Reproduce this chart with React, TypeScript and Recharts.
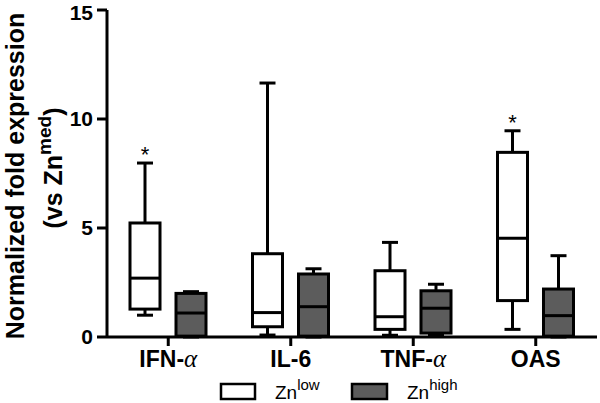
import React from "react";
import { ComposedChart, Bar, XAxis, YAxis, Label } from "recharts";

const categories = ["IFN-α", "IL-6", "TNF-α", "OAS"];
const significance = ["*", "", "", "*"];

const lowMin = [1.0, 0.09, 0.08, 0.35];
const lowQ1 = [1.28, 0.47, 0.35, 1.67];
const lowMedian = [2.7, 1.12, 0.93, 4.53];
const lowQ3 = [5.23, 3.82, 3.04, 8.47];
const lowMax = [7.98, 11.65, 4.34, 9.46];

const highMin = [0.0, 0.0, 0.08, 0.0];
const highQ1 = [0.04, 0.04, 0.18, 0.04];
const highMedian = [1.1, 1.39, 1.32, 0.98];
const highQ3 = [2.0, 2.89, 2.12, 2.2];
const highMax = [2.08, 3.13, 2.42, 3.73];

const yTicks = [0, 5, 10, 15];

const data = categories.map((c, i) => ({
  cat: c,
  sig: significance[i],
  lowMin: lowMin[i],
  lowQ1: lowQ1[i],
  lowMedian: lowMedian[i],
  lowQ3: lowQ3[i],
  lowMax: lowMax[i],
  highMin: highMin[i],
  highQ1: highQ1[i],
  highMedian: highMedian[i],
  highQ3: highQ3[i],
  highMax: highMax[i],
}));

const FONT = "'Liberation Sans', Arial, Helvetica, sans-serif";
const DARK = "#5c5c5c";

const makeBox = (prefix: string, fill: string, showSig: boolean) => (props: any) => {
  const { x, y, width, height, payload } = props;
  const max = payload[prefix + "Max"];
  const base = y + height;
  const px = (v: number) => base - (v / max) * height;
  const cx = x + width / 2;
  const cap = 8;
  const yMax = px(max);
  const yQ3 = px(payload[prefix + "Q3"]);
  const yMed = px(payload[prefix + "Median"]);
  const yQ1 = px(payload[prefix + "Q1"]);
  const yMin = px(payload[prefix + "Min"]);
  return (
    <g>
      <line x1={cx} x2={cx} y1={yMax} y2={yQ3} stroke="#000" strokeWidth={3} />
      <line x1={cx - cap} x2={cx + cap} y1={yMax} y2={yMax} stroke="#000" strokeWidth={3} />
      <line x1={cx} x2={cx} y1={yQ1} y2={yMin} stroke="#000" strokeWidth={3} />
      <line x1={cx - cap} x2={cx + cap} y1={yMin} y2={yMin} stroke="#000" strokeWidth={3} />
      <rect x={x} y={yQ3} width={width} height={yQ1 - yQ3} fill={fill} stroke="#000" strokeWidth={3} />
      <line x1={x} x2={x + width} y1={yMed} y2={yMed} stroke="#000" strokeWidth={3} />
      {showSig && payload.sig ? (
        <text x={cx} y={yMax - 1} textAnchor="middle" fontFamily={FONT} fontSize={22} fill="#000">
          {payload.sig}
        </text>
      ) : null}
    </g>
  );
};

const XTick = (props: any) => {
  const { x, y, payload } = props;
  const v: string = payload.value;
  const hasAlpha = v.endsWith("α");
  const main = hasAlpha ? v.slice(0, -1) : v;
  return (
    <text x={x} y={y + 19} textAnchor="middle" fontFamily={FONT} fontWeight="bold" fontSize={23} fill="#000">
      {main}
      {hasAlpha ? (
        <tspan fontFamily="'Liberation Serif', 'DejaVu Serif', serif" fontWeight="normal" fontStyle="italic" fontSize={25}>
          α
        </tspan>
      ) : null}
    </text>
  );
};

const YLabel = () => (
  <g fontFamily={FONT} fontWeight="bold" fill="#000">
    <text transform="translate(24,176) rotate(-90)" textAnchor="middle" fontSize={25}>
      Normalized fold expression
    </text>
    <text transform="translate(62,168) rotate(-90)" textAnchor="middle" fontSize={25}>
      (vs Zn
      <tspan fontSize={19} dy={-11}>med</tspan>
      <tspan dy={11}>)</tspan>
    </text>
  </g>
);

const LegendLabel = () => (
  <g fontFamily={FONT} fill="#000">
    <rect x={221} y={384} width={34} height={15} fill="#fff" stroke="#000" strokeWidth={2.5} />
    <text x={275} y={399} fontSize={19}>
      Zn
      <tspan fontSize={15} dy={-9}>low</tspan>
    </text>
    <rect x={352} y={384} width={35} height={15} fill={DARK} stroke="#000" strokeWidth={2.5} />
    <text x={407} y={399} fontSize={19}>
      Zn
      <tspan fontSize={15} dy={-9}>high</tspan>
    </text>
  </g>
);

export default function App() {
  return (
    <div style={{ position: "absolute", left: 0, top: 0, width: 600, height: 403, background: "#fff" }}>
      <ComposedChart
        width={600}
        height={403}
        data={data}
        margin={{ top: 10, right: 3, bottom: 0, left: 47 }}
        barSize={30}
        barGap={16}
      >
        <XAxis
          dataKey="cat"
          tick={<XTick />}
          tickSize={9}
          tickMargin={2}
          axisLine={{ stroke: "#000", strokeWidth: 3 }}
          tickLine={{ stroke: "#000", strokeWidth: 3 }}
          interval={0}
          height={66}
        >
          <Label content={LegendLabel} />
        </XAxis>
        <YAxis
          domain={[0, 15]}
          ticks={yTicks}
          width={60}
          tickSize={10}
          tickMargin={4}
          tick={{ fill: "#000", fontSize: 21, fontWeight: "bold", fontFamily: FONT }}
          axisLine={{ stroke: "#000", strokeWidth: 3 }}
          tickLine={{ stroke: "#000", strokeWidth: 3 }}
        >
          <Label content={YLabel} />
        </YAxis>
        <Bar dataKey="lowMax" isAnimationActive={false} shape={makeBox("low", "#fff", true)} />
        <Bar dataKey="highMax" isAnimationActive={false} shape={makeBox("high", DARK, false)} />
      </ComposedChart>
    </div>
  );
}
